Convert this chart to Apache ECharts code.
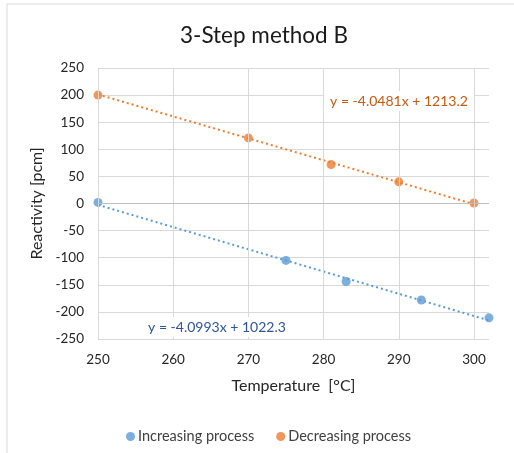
<!DOCTYPE html>
<html>
<head>
<meta charset="utf-8">
<script src="https://cdn.jsdelivr.net/npm/echarts@6/dist/echarts.min.js"></script>
<style>
  html, body { margin: 0; padding: 0; background: #fff; }
  #main { width: 514px; height: 453px; }
</style>
</head>
<body>
<div id="main"></div>
<script>
// data
var incTemp = [250, 275, 283, 293, 302];
var incReact = [2, -105, -144, -178, -211];
var decTemp = [250, 270, 281, 290, 300];
var decReact = [200, 121, 72, 40, 1];
// Excel trendline coefficients shown on the chart
var incFit = [-4.0993, 1022.3];
var decFit = [-4.0481, 1213.2];
var xTicks = [250, 260, 270, 280, 290, 300];

var font = 'Lato';
var blue = '#5B9BD5';
var orange = '#ED7D31';

function pairs(xs, ys) {
    return xs.map(function (x, i) { return [x, ys[i]]; });
}
function fitLine(fit, x0, x1) {
    return [[x0, fit[0] * x0 + fit[1]], [x1, fit[0] * x1 + fit[1]]];
}

var myChart = echarts.init(document.getElementById('main'));

var option = {
    backgroundColor: '#fff',
    textStyle: { fontFamily: font },
    title: {
        text: '3-Step method B',
        left: 175,
        top: 19,
        textStyle: { fontFamily: font, fontSize: 22.5, fontWeight: 'normal', color: '#1a1a1a' }
    },
    legend: {
        left: 121,
        top: 424,
        itemWidth: 9,
        itemHeight: 9,
        itemGap: 22,
        icon: 'circle',
        textStyle: { fontFamily: font, fontSize: 14.5, color: '#404040', padding: [0, 0, 0, -2] },
        data: ['Increasing process', 'Decreasing process']
    },
    grid: { left: 98, right: 25, top: 68, bottom: 114 },
    xAxis: {
        type: 'value',
        min: 250,
        max: 302,
        interval: 10,
        name: 'Temperature  [°C]',
        nameLocation: 'middle',
        nameGap: 39,
        nameTextStyle: { fontFamily: font, fontSize: 16, color: '#262626' },
        axisLine: { show: false },
        axisTick: { show: false },
        splitLine: { show: false },
        axisLabel: {
            margin: 14,
            fontFamily: font, fontSize: 13.5, color: '#262626',
            formatter: function (v) { return v % 10 === 0 ? v : ''; }
        }
    },
    yAxis: {
        type: 'value',
        min: -250,
        max: 250,
        interval: 50,
        name: 'Reactivity [pcm]',
        nameLocation: 'middle',
        nameGap: 48,
        nameTextStyle: { fontFamily: font, fontSize: 16, color: '#262626' },
        axisLine: { show: false },
        axisTick: { show: false },
        splitLine: { lineStyle: { color: '#d9d9d9', width: 1 } },
        axisLabel: { margin: 14, fontFamily: font, fontSize: 13.5, color: '#262626' }
    },
    series: [
        {
            name: 'grid',
            type: 'line',
            data: [],
            silent: true,
            markLine: {
                silent: true,
                symbol: 'none',
                label: { show: false },
                animation: false,
                data: xTicks.map(function (t) {
                    return { xAxis: t, lineStyle: { color: '#d9d9d9', width: 1, type: 'solid' } };
                }).concat([{ yAxis: 0, lineStyle: { color: '#bfbfbf', width: 1, type: 'solid' } }])
            }
        },
        {
            name: 'inc trend',
            type: 'line',
            data: fitLine(incFit, 250, 302),
            showSymbol: false,
            silent: true,
            lineStyle: { color: blue, width: 2, type: [2, 3] },
            z: 2
        },
        {
            name: 'dec trend',
            type: 'line',
            data: fitLine(decFit, 250, 300),
            showSymbol: false,
            silent: true,
            lineStyle: { color: orange, width: 2, type: [2, 3] },
            z: 2
        },
        {
            name: 'Increasing process',
            type: 'scatter',
            data: pairs(incTemp, incReact),
            symbolSize: 9,
            itemStyle: { color: blue },
            z: 3
        },
        {
            name: 'Decreasing process',
            type: 'scatter',
            data: pairs(decTemp, decReact),
            symbolSize: 9,
            itemStyle: { color: orange },
            z: 3
        }
    ],
    graphic: [
        {
            type: 'rect',
            shape: { x: 7, y: 4, width: 600, height: 600 },
            style: { fill: 'none', stroke: '#d9d9d9', lineWidth: 1 },
            silent: true,
            z: 0
        },
        {
            type: 'text',
            x: 399,
            y: 101,
            style: {
                text: 'y = -4.0481x + 1213.2',
                fontFamily: font, fontSize: 14, fill: '#C55A11',
                align: 'center', verticalAlign: 'middle',
                backgroundColor: '#fff', padding: [3, 6]
            },
            z: 10
        },
        {
            type: 'text',
            x: 217,
            y: 327,
            style: {
                text: 'y = -4.0993x + 1022.3',
                fontFamily: font, fontSize: 14, fill: '#2F5597',
                align: 'center', verticalAlign: 'middle',
                backgroundColor: '#fff', padding: [3, 6]
            },
            z: 10
        }
    ]
};

myChart.setOption(option);
</script>
</body>
</html>
